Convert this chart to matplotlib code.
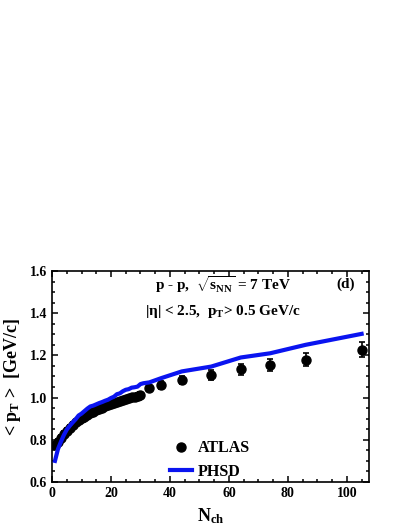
import matplotlib
matplotlib.use("Agg")
import matplotlib.pyplot as plt
from matplotlib.ticker import MultipleLocator

# ATLAS <pT> vs Nch (p-p 7 TeV, |eta|<2.5, pT>0.5 GeV/c)
atlas_n = list(range(1, 31)) + [33, 37, 44, 54, 64, 74, 86, 105]
atlas_pt = [0.775, 0.790, 0.810, 0.828, 0.844, 0.858, 0.871, 0.882, 0.892, 0.901,
            0.910, 0.918, 0.926, 0.933, 0.940, 0.946, 0.952, 0.958, 0.963, 0.968,
            0.973, 0.978, 0.983, 0.988, 0.992, 0.997, 1.001, 1.005, 1.009, 1.013,
            1.045, 1.060, 1.083, 1.107, 1.134, 1.156, 1.180, 1.226]
atlas_err = [0.012] * 30 + [0.015, 0.018, 0.020, 0.022, 0.025, 0.028, 0.030, 0.036]

# PHSD calculation
phsd_n = [1, 2, 3, 4, 5, 6, 7, 8, 9, 10, 11, 12, 13, 14, 15, 16, 17, 18, 19, 20,
          21, 22, 23, 24, 25, 26, 27, 28, 29, 30, 31, 33, 37, 44, 54, 64, 74, 86, 105]
phsd_pt = [0.700, 0.755, 0.790, 0.822, 0.848, 0.866, 0.882, 0.897, 0.915, 0.924,
           0.936, 0.948, 0.958, 0.962, 0.968, 0.974, 0.979, 0.985, 0.990, 0.998,
           1.004, 1.016, 1.020, 1.030, 1.037, 1.040, 1.047, 1.049, 1.052, 1.064,
           1.068, 1.072, 1.092, 1.124, 1.147, 1.190, 1.210, 1.250, 1.302]

plt.rcParams['font.family'] = 'Liberation Serif'
plt.rcParams['font.weight'] = 'bold'
plt.rcParams['mathtext.fontset'] = 'custom'
plt.rcParams['mathtext.rm'] = 'Liberation Serif:bold'
plt.rcParams['mathtext.it'] = 'Liberation Serif:bold'
plt.rcParams['mathtext.bf'] = 'Liberation Serif:bold'

fig = plt.figure(figsize=(4.07, 5.27), dpi=100)
ax = fig.add_axes([0.1278, 0.0854, 0.7788, 0.4004])

eb = ax.errorbar(atlas_n, atlas_pt, yerr=atlas_err, fmt='o', color='black',
                 ms=6.5, capsize=2, elinewidth=1.2, capthick=1.2, zorder=2)
line, = ax.plot(phsd_n, phsd_pt, color='#0a14f0', lw=3, zorder=3)

ax.set_xlim(0, 107.5)
ax.set_ylim(0.6, 1.6)
ax.xaxis.set_major_locator(MultipleLocator(20))
ax.xaxis.set_minor_locator(MultipleLocator(5))
ax.yaxis.set_major_locator(MultipleLocator(0.2))
ax.yaxis.set_minor_locator(MultipleLocator(0.05))
ax.yaxis.set_major_formatter(matplotlib.ticker.FormatStrFormatter('%.1f'))
ax.tick_params(which='both', direction='in', top=True, right=True, width=1.1,
               labelsize=10)
ax.tick_params(which='major', length=4)
ax.tick_params(which='minor', length=2)
for s in ax.spines.values():
    s.set_linewidth(1.2)

ax.set_xlabel(r'N$_{\mathrm{ch}}$', fontsize=13, fontweight='bold', labelpad=5)
ax.set_ylabel(r'< p$_{\mathrm{T}}$ >  [GeV/c]', fontsize=13, fontweight='bold',
              labelpad=5)

ax.text(0.54, 0.935, r'p - p,  $\sqrt{\mathrm{s_{NN}}}$ = 7 TeV', transform=ax.transAxes,
        ha='center', va='center', fontsize=11, fontweight='bold')
ax.text(0.54, 0.81, r'|η| < 2.5,  p$_{\mathrm{T}}$> 0.5 GeV/c', transform=ax.transAxes,
        ha='center', va='center', fontsize=11, fontweight='bold')
ax.text(0.925, 0.935, '(d)', transform=ax.transAxes,
        ha='center', va='center', fontsize=11, fontweight='bold')

ax.legend([eb[0], line], ['ATLAS', 'PHSD'], loc='center left',
          bbox_to_anchor=(0.372, 0.104), frameon=False, borderpad=0,
          borderaxespad=0, handlelength=1.4, handletextpad=0.35,
          labelspacing=0.45, numpoints=1, prop={'size': 11.5, 'weight': 'bold'})

fig.savefig('out.png', dpi=100)
